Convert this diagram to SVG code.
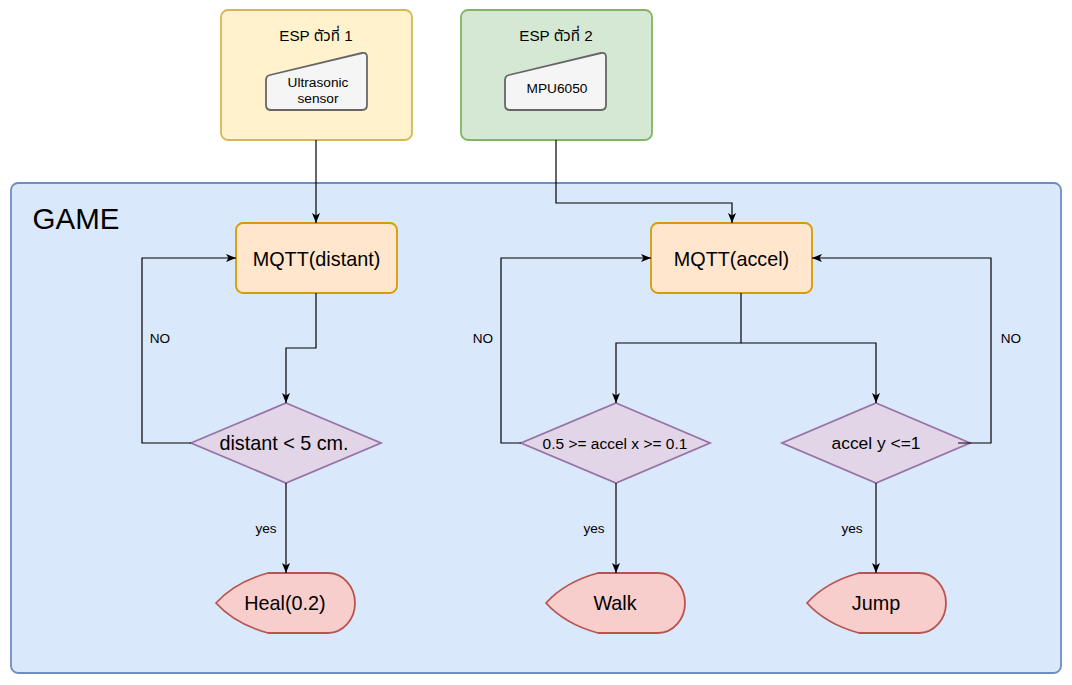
<svg xmlns="http://www.w3.org/2000/svg" xmlns:xlink="http://www.w3.org/1999/xlink" width="1072" height="685" viewBox="0 0 1072 685">
<style>
  text { font-family: "Liberation Sans", Arial, "Noto Sans Thai", "DejaVu Sans", sans-serif; fill: #000; text-anchor: middle; }
  .esp1 { fill: #fff2cc; stroke: #d6b656; stroke-width: 1.8; }
  .esp2 { fill: #d5e8d4; stroke: #82b366; stroke-width: 1.8; }
  .game { fill: #dae8fc; stroke: #6c8ebf; stroke-width: 1.8; }
  .mqtt { fill: #ffe6cc; stroke: #d79b00; stroke-width: 1.8; }
  .dec { fill: #e1d5e7; stroke: #9673a6; stroke-width: 1.8; }
  .disp { fill: #f8cecc; stroke: #b85450; stroke-width: 1.8; }
  .sensor { fill: #f5f5f5; stroke: #666666; stroke-width: 1.8; }
  .edge { fill: none; stroke: #000; stroke-width: 1.2; }
  .t15 { font-size: 15.2px; }
  .t14 { font-size: 13.7px; }
  .t20 { font-size: 19.8px; }
  .lbl { font-size: 13.6px; }
</style>
<defs>
  <marker id="arr" viewBox="0 0 10 8" markerWidth="10" markerHeight="8" refX="10" refY="4" orient="auto" markerUnits="userSpaceOnUse">
    <path d="M0,0 L10,4 L0,8 L2.5,4 Z" fill="#000"/>
  </marker>
  <path id="display" d="M0,30 Q19,9 52,0 L112,0 A27,30 0 0 1 139,30 A27,30 0 0 1 112,60 L52,60 Q19,51 0,30 Z"/>
  <path id="manual" d="M0,28 Q0,24 4,23 L96,1 Q101,0 101,5 L101,53 Q101,58 96,58 L5,58 Q0,58 0,53 Z"/>
</defs>

<g id="game">
  <rect class="game" x="11" y="183" width="1050" height="490" rx="7"/>
  <text x="76" y="229" style="font-size:29.5px">GAME</text>
</g>

<g id="esp1">
  <rect class="esp1" x="221" y="10" width="191" height="130" rx="7"/>
  <text class="t15" x="316" y="41">ESP ตัวที่ 1</text>
</g>
<g id="ultrasonic">
  <use xlink:href="#manual" href="#manual" class="sensor" x="266" y="52"/>
  <text class="t14" x="318" y="87">Ultrasonic</text>
  <text class="t14" x="318" y="103">sensor</text>
</g>

<g id="esp2">
  <rect class="esp2" x="461" y="10" width="191" height="130" rx="7"/>
  <text class="t15" x="556" y="41">ESP ตัวที่ 2</text>
</g>
<g id="mpu6050">
  <use xlink:href="#manual" href="#manual" class="sensor" x="505" y="52"/>
  <text class="t14" x="557" y="93">MPU6050</text>
</g>

<g id="mqtt-distant">
  <rect class="mqtt" x="236" y="223" width="161" height="70" rx="7"/>
  <text class="t20" x="316.5" y="266">MQTT(distant)</text>
</g>
<g id="mqtt-accel">
  <rect class="mqtt" x="651" y="223" width="161" height="70" rx="7"/>
  <text class="t20" x="731.5" y="266">MQTT(accel)</text>
</g>

<g id="dec-distant">
  <polygon class="dec" points="286,403 381,443 286,483 191,443"/>
  <text class="t20" x="284" y="450">distant &lt; 5 cm.</text>
</g>
<g id="dec-accelx">
  <polygon class="dec" points="616,403 710,443 616,483 521,443"/>
  <text x="615" y="449" style="font-size:15.5px">0.5 &gt;= accel x &gt;= 0.1</text>
</g>
<g id="dec-accely">
  <polygon class="dec" points="876,403 970,443 876,483 782,443"/>
  <text x="876" y="449" style="font-size:17.4px">accel y &lt;=1</text>
</g>

<g id="heal">
  <use xlink:href="#display" href="#display" class="disp" x="216" y="573"/>
  <text class="t20" x="285" y="610">Heal(0.2)</text>
</g>
<g id="walk">
  <use xlink:href="#display" href="#display" class="disp" x="546" y="573"/>
  <text class="t20" x="615" y="610">Walk</text>
</g>
<g id="jump">
  <use xlink:href="#display" href="#display" class="disp" x="807" y="573"/>
  <text class="t20" x="876" y="610">Jump</text>
</g>

<g id="connectors">
  <path class="edge" d="M316,140 V223" marker-end="url(#arr)"/>
  <path class="edge" d="M556,140 V203 H732 V223" marker-end="url(#arr)"/>
  <path class="edge" d="M316,293 V348 H286 V403" marker-end="url(#arr)"/>
  <path class="edge" d="M286,483 V573" marker-end="url(#arr)"/>
  <path class="edge" d="M191,443 H142 V258 H236" marker-end="url(#arr)"/>
  <path class="edge" d="M741,293 V343 H616 V403" marker-end="url(#arr)"/>
  <path class="edge" d="M741,343 H876 V403" marker-end="url(#arr)"/>
  <path class="edge" d="M616,483 V573" marker-end="url(#arr)"/>
  <path class="edge" d="M521,443 H501 V258 H651" marker-end="url(#arr)"/>
  <path class="edge" d="M876,483 V573" marker-end="url(#arr)"/>
  <path class="edge" d="M958,443 H991 V258 H812" marker-end="url(#arr)"/>
  <text class="lbl" x="160" y="343">NO</text>
  <text class="lbl" x="483" y="343">NO</text>
  <text class="lbl" x="1011" y="343">NO</text>
  <text class="lbl" x="266" y="533">yes</text>
  <text class="lbl" x="594" y="533">yes</text>
  <text class="lbl" x="852" y="533">yes</text>
</g>
</svg>
